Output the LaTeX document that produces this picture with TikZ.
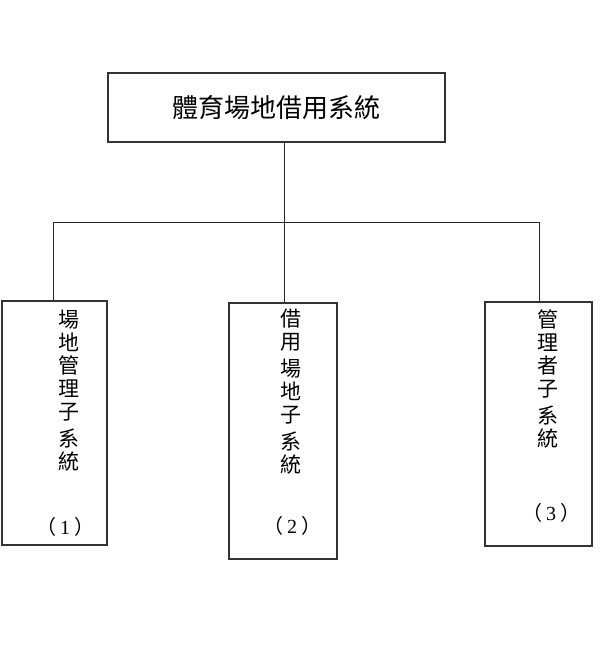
\documentclass[tikz,border=0pt]{standalone}
\usepackage{fontspec}
\setmainfont{Noto Sans CJK TC}
\newfontfamily\serifnum{Liberation Serif}
\newcommand{\pnum}[1]{（\hspace{4pt}{\serifnum #1}\hspace{4pt}）}
\begin{document}
\begin{tikzpicture}[x=1pt,y=-1pt,
  boxline/.style={draw=black!80, line width=1.1pt},
  conn/.style={draw=black!85, line width=1pt},
  vtext/.style={anchor=north, align=center, inner sep=0pt, font=\fontsize{21}{23}\selectfont},
  numtext/.style={inner sep=0pt, font=\fontsize{20}{22}\selectfont}]
\useasboundingbox (0,0) rectangle (601,648);
\fill[white] (0,0) rectangle (601,648);
% boxes
\node[boxline, minimum width=337pt, minimum height=69pt, inner sep=0pt, font=\fontsize{26}{28}\selectfont] (top) at (276.5,107.5) {體育場地借用系統};
\node[boxline, minimum width=105pt, minimum height=244pt, inner sep=0pt] (b1) at (54.5,423) {};
\node[boxline, minimum width=108pt, minimum height=256pt, inner sep=0pt] (b2) at (283,431) {};
\node[boxline, minimum width=107pt, minimum height=244pt, inner sep=0pt] (b3) at (538.5,424) {};
% texts
\node[vtext] (t1) at (69,310) {場\\地\\管\\理\\子\\[4pt]系\\統};
\node[numtext] (n1) at (65,527) {\pnum{1}};
\node[vtext] (t2) at (291,309) {借\\用\\[4pt]場\\地\\子\\[4pt]系\\統};
\node[numtext] (n2) at (292,526) {\pnum{2}};
\node[vtext] (t3) at (548,309) {管\\理\\者\\子\\[4pt]系\\統};
\node[numtext] (n3) at (551,513) {\pnum{3}};
% connectors
\coordinate (hub) at (284,222);
\coordinate (hl) at (53,222);
\coordinate (hr) at (539,222);
\draw[conn] (top.south -| hub) -- (hub);
\draw[conn] (hl) -- (hr);
\draw[conn] (hl) -- (hl |- b1.north);
\draw[conn] (hub) -- (hub |- b2.north);
\draw[conn] (hr) -- (hr |- b3.north);
\end{tikzpicture}
\end{document}
